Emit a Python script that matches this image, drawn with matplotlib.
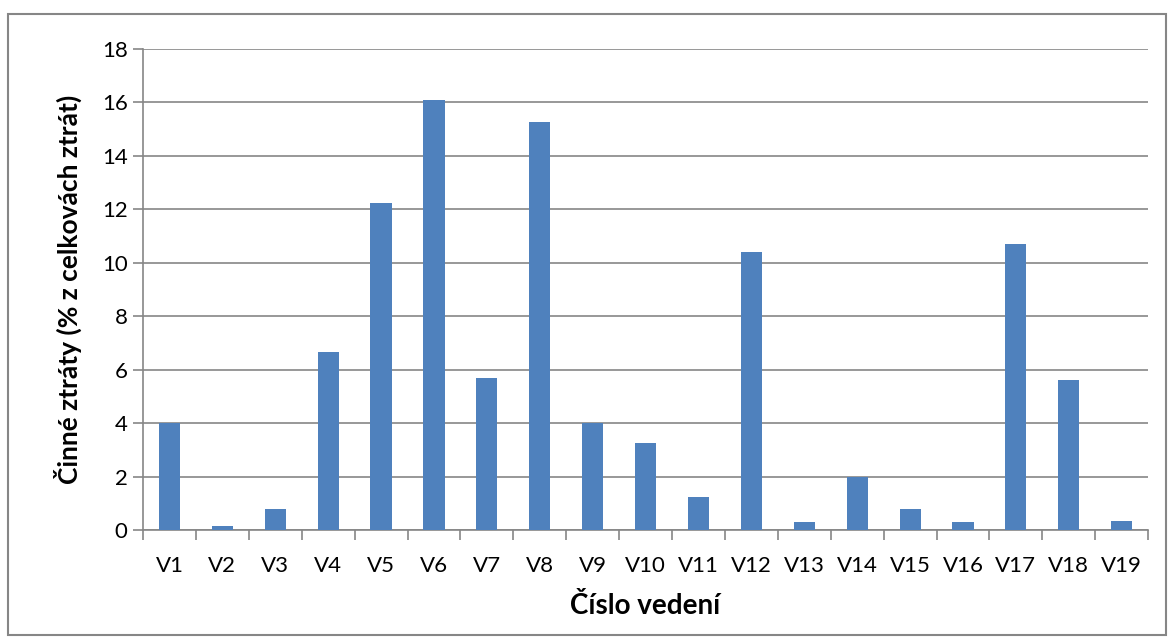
import numpy as np
import matplotlib.pyplot as plt
from matplotlib.patches import Rectangle

# data
vedeni = ['V%d' % i for i in range(1, 20)]
ztraty = [4.0, 0.13, 0.78, 6.65, 12.25, 16.1, 5.7, 15.25, 4.0, 3.27,
          1.25, 10.4, 0.3, 1.97, 0.8, 0.3, 10.72, 5.6, 0.35]

plt.rcParams['font.family'] = ['Lato', 'DejaVu Sans']

fig = plt.figure(figsize=(11.74, 6.42), dpi=100)
ax = fig.add_axes([0.1218, 0.1745, 0.978 - 0.1218, 0.9237 - 0.1745])

# outer chart frame
fig.patches.append(Rectangle((8 / 1174, 1 - 635 / 642), 1158 / 1174, 621 / 642,
                             transform=fig.transFigure, fill=False,
                             edgecolor='#868686', linewidth=1.5))

x = np.arange(len(vedeni))
ax.bar(x, ztraty, width=0.4, color='#4F81BD', zorder=3)

ax.set_xlim(-0.5, len(vedeni) - 0.5)
ax.set_ylim(0, 18)
ax.set_yticks(np.arange(0, 19, 2))
ax.yaxis.grid(True, color='#868686', linewidth=1.2, zorder=0)

# category labels centred, ticks between categories
ax.set_xticks(x)
ax.set_xticklabels(vedeni, fontsize=16)
ax.tick_params(axis='x', length=0, pad=19)
ax.set_xticks(np.arange(-0.5, len(vedeni), 1), minor=True)
ax.tick_params(axis='x', which='minor', length=7, color='#868686', width=1.2)
ax.tick_params(axis='y', length=7, color='#868686', width=1.2, labelsize=16, pad=4)

for s in ['top', 'right']:
    ax.spines[s].set_visible(False)
ax.spines['left'].set_color('#868686')
ax.spines['bottom'].set_color('#868686')
ax.spines['left'].set_linewidth(1.2)
ax.spines['bottom'].set_linewidth(1.2)

ax.set_xlabel('Číslo vedení', fontsize=20, fontweight='bold', labelpad=12)
ax.set_ylabel('Činné ztráty (% z celkovách ztrát)', fontsize=19, fontweight='bold', labelpad=14)

fig.savefig('out.png', dpi=100)
